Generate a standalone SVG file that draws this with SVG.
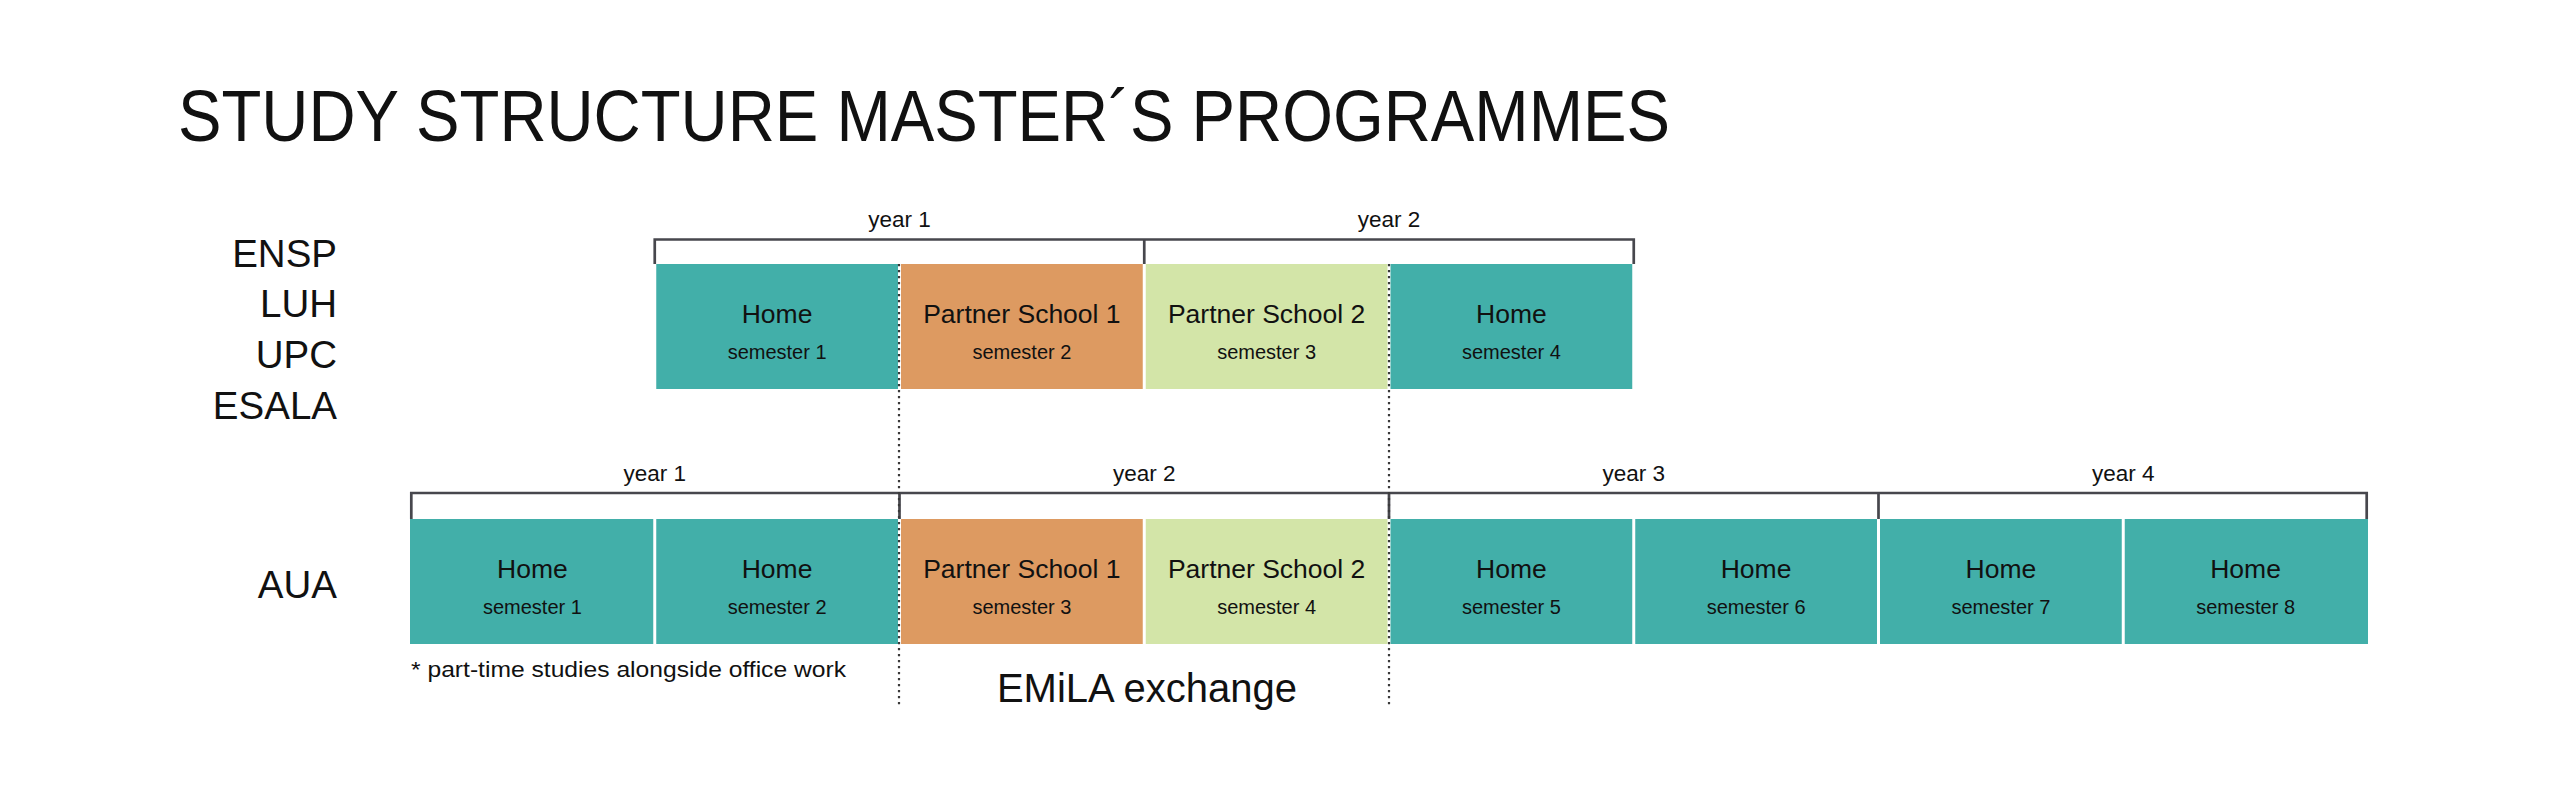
<svg xmlns="http://www.w3.org/2000/svg" width="2560" height="790" viewBox="0 0 2560 790">
<style>
text{font-family:"Liberation Sans",Arial,sans-serif;fill:#111;}
.title{font-size:72px;}
.inst{font-size:38.5px;text-anchor:end;}
.year{font-size:22.5px;text-anchor:middle;}
.main{font-size:26.5px;text-anchor:middle;}
.sem{font-size:20px;text-anchor:middle;}
.emila{font-size:40px;text-anchor:middle;}
.note{font-size:22px;}
.home{fill:#42AFA9;}
.ps1{fill:#DD9A61;}
.ps2{fill:#D3E5A8;}
.bracket{fill:none;stroke:#47474d;stroke-width:2.7;}
.dot{fill:none;stroke:#3a3a3a;stroke-width:2.2;stroke-dasharray:2.2 3.8;}
</style>
<rect width="2560" height="790" fill="#fff"/>
<text class="title" x="178" y="141" textLength="1492" lengthAdjust="spacingAndGlyphs">STUDY STRUCTURE MASTER´S PROGRAMMES</text>
<g id="labels">
<text class="inst" x="337" y="266.5">ENSP</text>
<text class="inst" x="337" y="317">LUH</text>
<text class="inst" x="337" y="367.5">UPC</text>
<text class="inst" x="337" y="418.5">ESALA</text>
<text class="inst" x="337" y="597.5">AUA</text>
</g>
<g id="years">
<text class="year" x="899.5" y="227">year 1</text>
<text class="year" x="1389" y="227">year 2</text>
<text class="year" x="654.75" y="481">year 1</text>
<text class="year" x="1144.25" y="481">year 2</text>
<text class="year" x="1633.75" y="481">year 3</text>
<text class="year" x="2123.25" y="481">year 4</text>
</g>
<g id="top-s1"><rect class="home" x="656.25" y="264" width="241.75" height="125"/><text class="main" x="777.1" y="323">Home</text><text class="sem" x="777.1" y="359">semester 1</text></g>
<g id="top-s2"><rect class="ps1" x="901" y="264" width="241.75" height="125"/><text class="main" x="1021.9" y="323">Partner School 1</text><text class="sem" x="1021.9" y="359">semester 2</text></g>
<g id="top-s3"><rect class="ps2" x="1145.75" y="264" width="241.75" height="125"/><text class="main" x="1266.6" y="323">Partner School 2</text><text class="sem" x="1266.6" y="359">semester 3</text></g>
<g id="top-s4"><rect class="home" x="1390.5" y="264" width="241.75" height="125"/><text class="main" x="1511.4" y="323">Home</text><text class="sem" x="1511.4" y="359">semester 4</text></g>
<g id="aua-s1"><rect class="home" x="410" y="519" width="243.25" height="125"/><text class="main" x="532.4" y="578">Home</text><text class="sem" x="532.4" y="614">semester 1</text></g>
<g id="aua-s2"><rect class="home" x="656.25" y="519" width="241.75" height="125"/><text class="main" x="777.1" y="578">Home</text><text class="sem" x="777.1" y="614">semester 2</text></g>
<g id="aua-s3"><rect class="ps1" x="901" y="519" width="241.75" height="125"/><text class="main" x="1021.9" y="578">Partner School 1</text><text class="sem" x="1021.9" y="614">semester 3</text></g>
<g id="aua-s4"><rect class="ps2" x="1145.75" y="519" width="241.75" height="125"/><text class="main" x="1266.6" y="578">Partner School 2</text><text class="sem" x="1266.6" y="614">semester 4</text></g>
<g id="aua-s5"><rect class="home" x="1390.5" y="519" width="241.75" height="125"/><text class="main" x="1511.4" y="578">Home</text><text class="sem" x="1511.4" y="614">semester 5</text></g>
<g id="aua-s6"><rect class="home" x="1635.25" y="519" width="241.75" height="125"/><text class="main" x="1756.1" y="578">Home</text><text class="sem" x="1756.1" y="614">semester 6</text></g>
<g id="aua-s7"><rect class="home" x="1880" y="519" width="241.75" height="125"/><text class="main" x="2000.9" y="578">Home</text><text class="sem" x="2000.9" y="614">semester 7</text></g>
<g id="aua-s8"><rect class="home" x="2124.75" y="519" width="243.25" height="125"/><text class="main" x="2245.6" y="578">Home</text><text class="sem" x="2245.6" y="614">semester 8</text></g>
<g id="connectors">
<path class="bracket" d="M654.75 264V239.5H1633.75V264M1144.25 239.5V264"/>
<path class="bracket" d="M411.3 519V493H2366.7V519M899.5 493V519M1389 493V519M1878.5 493V519"/>
<path class="dot" d="M899 264V707M1389 264V707"/>
</g>
<text class="note" x="411" y="676.5" textLength="435" lengthAdjust="spacingAndGlyphs">* part-time studies alongside office work</text>
<text class="emila" x="1147" y="701.5">EMiLA exchange</text>
</svg>
